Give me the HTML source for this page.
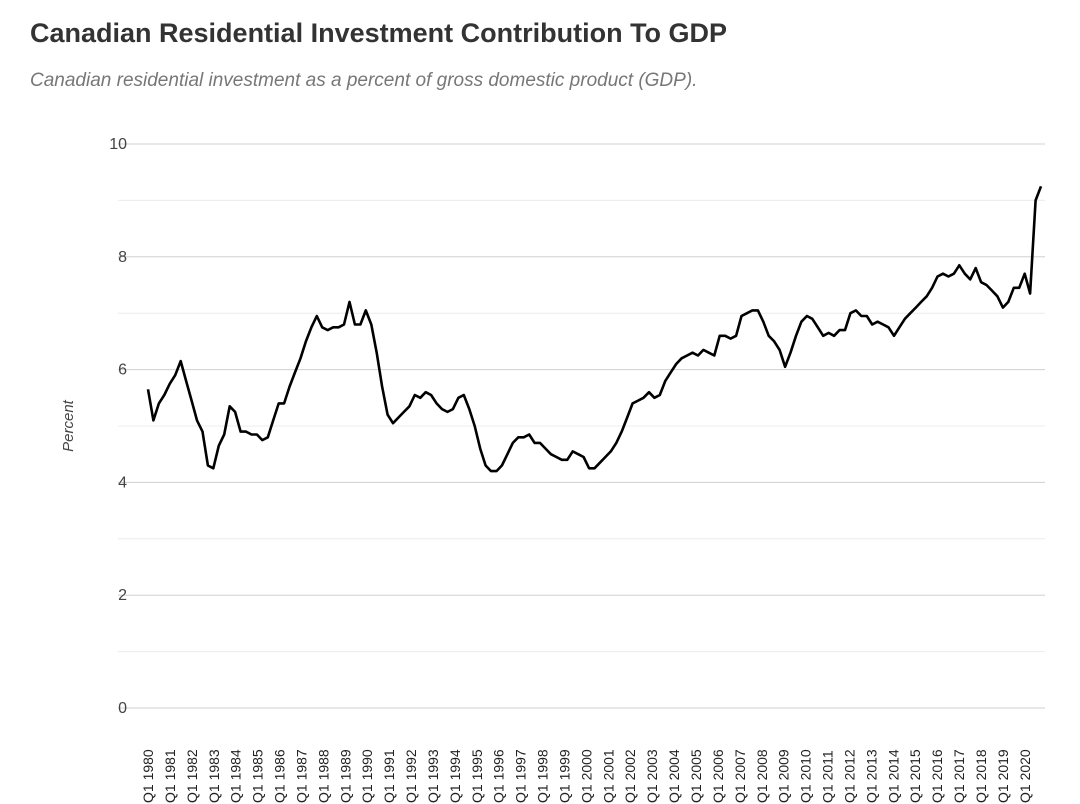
<!DOCTYPE html>
<html><head><meta charset="utf-8"><style>
body{margin:0;background:#fff;width:1080px;height:804px;overflow:hidden;font-family:"Liberation Sans",sans-serif}
h1{position:absolute;left:30px;top:18px;margin:0;font-size:27px;font-weight:bold;color:#333}
.sub{position:absolute;left:30px;top:70px;font-size:19px;font-style:italic;color:#777}
</style></head><body>
<h1>Canadian Residential Investment Contribution To GDP</h1>
<div class="sub">Canadian residential investment as a percent of gross domestic product (GDP).</div>
<svg id="c" width="1080" height="804" style="position:absolute;left:0;top:0"></svg>
<script>
const years=[];for(let y=1980;y<=2020;y++)years.push(y);
const values=[5.65,5.1,5.4, 5.55,5.75,5.9,6.15, 5.8,5.45,5.1,4.9, 4.3,4.25,4.65,4.85, 5.35,5.25,4.9,4.9, 4.85,4.85,4.75,4.8, 5.1,5.4,5.4,5.7, 5.95,6.2,6.5,6.75, 6.95,6.75,6.7,6.75, 6.75,6.8,7.2,6.8, 6.8,7.05,6.8,6.3, 5.7,5.2,5.05,5.15, 5.25,5.35,5.55,5.5, 5.6,5.55,5.4,5.3, 5.25,5.3,5.5,5.55, 5.3,5.0,4.6,4.3, 4.2,4.2,4.3,4.5, 4.7,4.8,4.8,4.85, 4.7,4.7,4.6,4.5, 4.45,4.4,4.4,4.55, 4.5,4.45,4.25,4.25, 4.35,4.45,4.55,4.7, 4.9,5.15,5.4,5.45, 5.5,5.6,5.5,5.55, 5.8,5.95,6.1,6.2, 6.25,6.3,6.25,6.35, 6.3,6.25,6.6,6.6, 6.55,6.6,6.95,7.0, 7.05,7.05,6.85,6.6, 6.5,6.35,6.05,6.3, 6.6,6.85,6.95,6.9, 6.75,6.6,6.65,6.6, 6.7,6.7,7.0,7.05, 6.95,6.95,6.8,6.85, 6.8,6.75,6.6,6.75, 6.9,7.0,7.1,7.2, 7.3,7.45,7.65,7.7, 7.65,7.7,7.85,7.7, 7.6,7.8,7.55,7.5, 7.4,7.3,7.1,7.2, 7.45,7.45,7.7,7.35, 9.0,9.25];
const yTicks=[0,2,4,6,8,10];
const NS='http://www.w3.org/2000/svg',svg=document.getElementById('c');
const step=893/(values.length-1);
const x=i=>148+i*step, y=v=>708-v*56.4;
function el(t,a,p){const e=document.createElementNS(NS,t);for(const k in a)e.setAttribute(k,a[k]);(p||svg).appendChild(e);return e;}
for(let v=0;v<=10;v++){const g=el('line',{x1:118,x2:1045,y1:y(v),y2:y(v),stroke:v%2?'#ececec':'#d0d0d0','stroke-width':1});

}
yTicks.forEach(v=>{const t=el('text',{x:127,y:y(v)+5,'text-anchor':'end','font-size':16,fill:'#444'});t.textContent=v;

});
const yt=el('text',{transform:'translate(73,426) rotate(-90)','text-anchor':'middle','font-size':15,'font-style':'italic',fill:'#444'});yt.textContent='Percent';


years.forEach((yr,i)=>{const px=148+i*21.92+5;const t=el('text',{transform:`translate(${px},803) rotate(-90)`,'font-size':14,fill:'#222'});t.textContent='Q1 '+yr;

});
const p=el('path',{d:values.map((v,i)=>(i?'L':'M')+x(i).toFixed(1)+','+y(v).toFixed(1)).join(''),fill:'none',stroke:'#000','stroke-width':2.6,'stroke-linejoin':'round'});


</script>
</body></html>
